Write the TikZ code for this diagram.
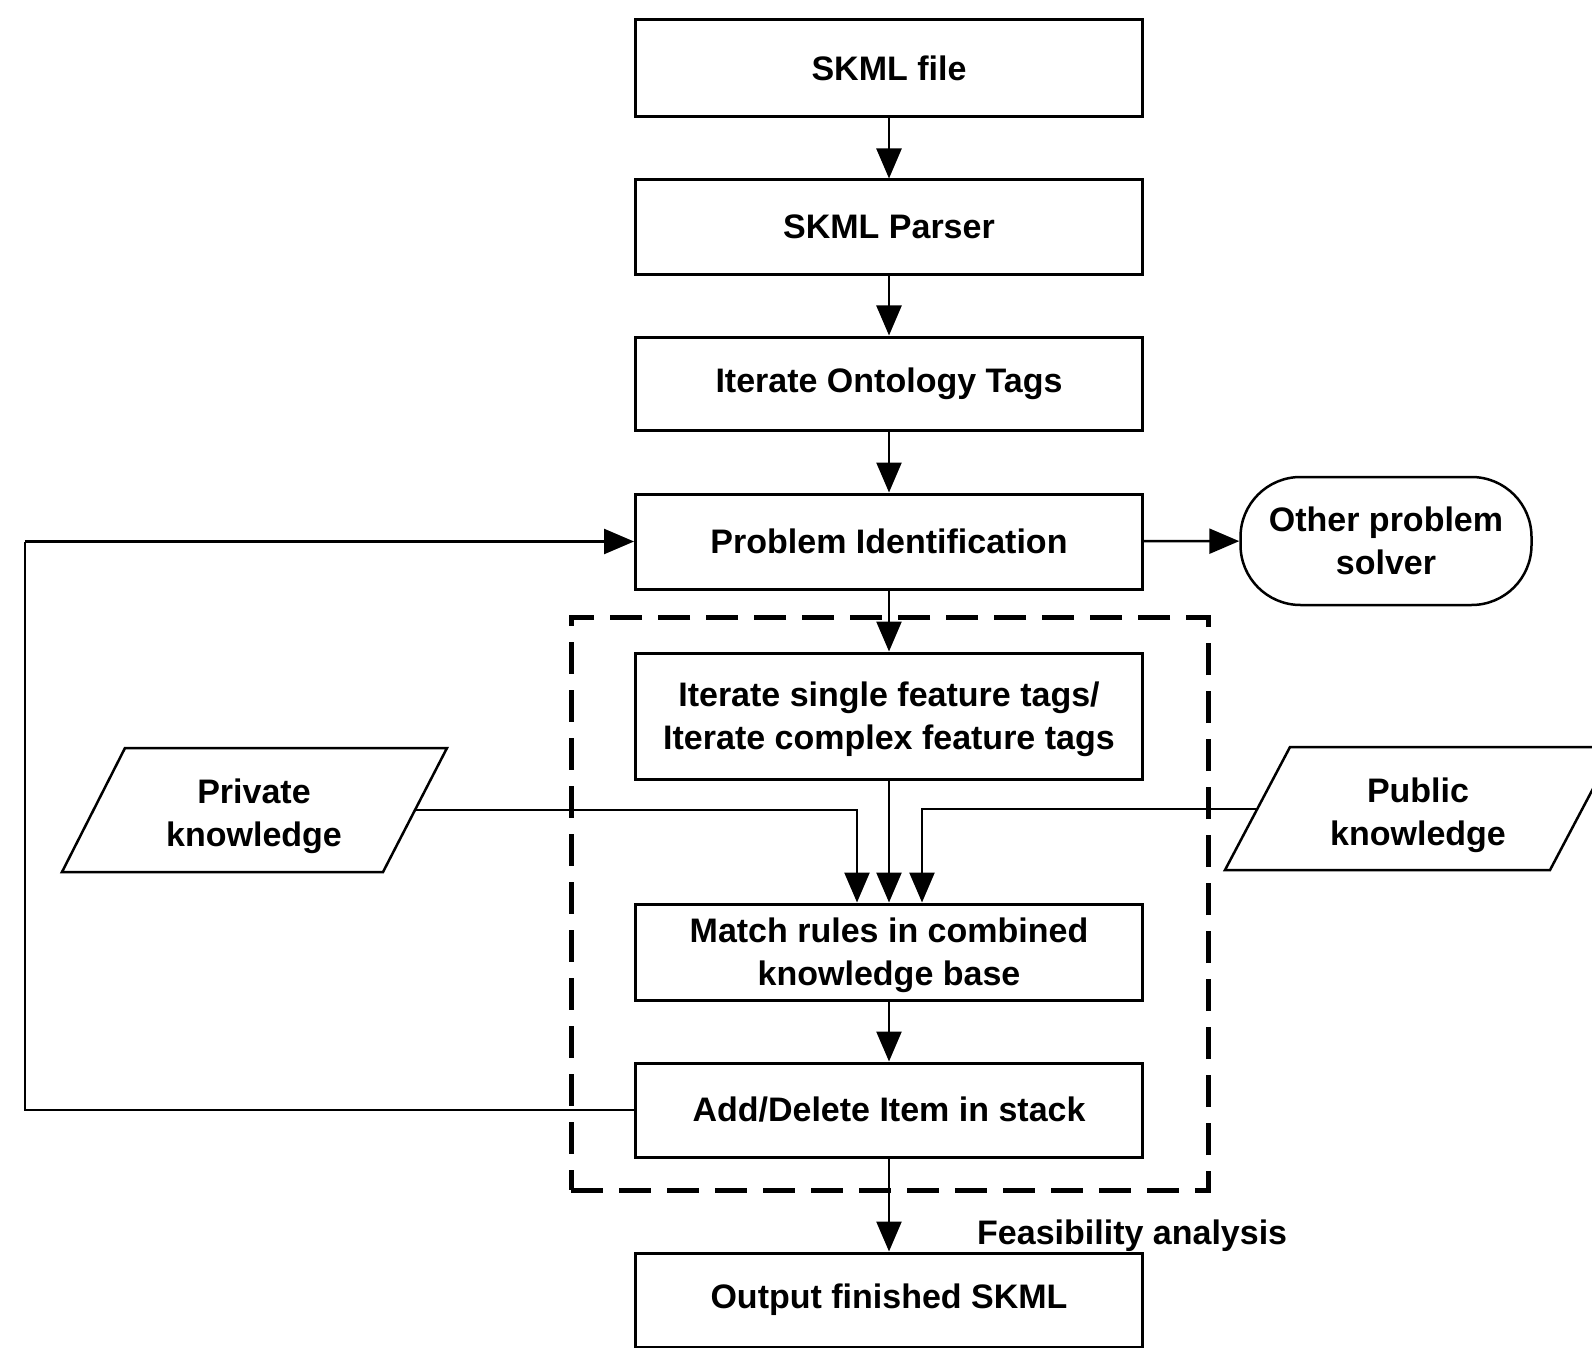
\documentclass[tikz,border=0pt]{standalone}
\usepackage{fontspec}
\setmainfont{Liberation Sans}
\usetikzlibrary{arrows.meta}

\begin{document}
\begin{tikzpicture}[x=1bp,y=-1bp,
  every node/.style={font=\fontsize{34bp}{43bp}\selectfont\bfseries},
  procbox/.style={draw, line width=3bp, minimum width=507bp, inner sep=0pt, align=center},
  solverbox/.style={draw, line width=2.5bp, rounded corners=60bp, minimum width=291bp,
                    minimum height=128bp, inner sep=0pt, align=center},
  groupbox/.style={draw, line width=5bp, dash pattern=on 32bp off 16bp,
                   minimum width=637bp, minimum height=573bp, inner sep=0pt},
  datashape/.style={line width=2.5bp, line join=miter},
  flow/.style={line width=2.5bp, -{Triangle[width=25bp,length=30bp]}},
  plain/.style={line width=2.5bp},
  txt/.style={inner sep=0pt, align=center}
]
\useasboundingbox (0,0) rectangle (1592,1348);
\clip (0,0) rectangle (1592,1348);

% main processing chain
\node[procbox, minimum height=97bp] (file)   at (889,68.5)  {SKML file};
\node[procbox, minimum height=94bp] (parser) at (889,227)   {SKML Parser};
\node[procbox, minimum height=93bp] (onto)   at (889,383.5) {Iterate Ontology Tags};
\node[procbox, minimum height=95bp] (probid) at (889,541.5) {Problem Identification};
\node[procbox, minimum height=126bp, text depth=-8bp] (feat) at (889,716)
  {Iterate single feature tags/\\Iterate complex feature tags};
\node[procbox, minimum height=96bp, text depth=-8bp] (match) at (889,952)
  {Match rules in combined\\knowledge base};
\node[procbox, minimum height=94bp] (adddel) at (889,1110)  {Add/Delete Item in stack};
\node[procbox, minimum height=94bp] (output) at (889,1300)  {Output finished SKML};

% alternative solver
\node[solverbox] (solver) at (1386,541) {Other problem\\solver};

% dashed group around the rule-matching loop
\node[groupbox] (group) at (889.5,903.5) {};

% knowledge sources (parallelograms)
\coordinate (pvA) at (125,748);
\coordinate (pvB) at (447,748);
\coordinate (pvC) at (383,872);
\coordinate (pvD) at (62,872);
\draw[datashape] (pvA) -- (pvB) -- (pvC) -- (pvD) -- cycle;
\node[txt] (privtxt) at (254,816) {Private\\knowledge};
\coordinate (privout) at (415,810);

\coordinate (pbA) at (1290,747);
\coordinate (pbB) at (1615,747);
\coordinate (pbC) at (1550,870);
\coordinate (pbD) at (1225,870);
\draw[datashape] (pbA) -- (pbB) -- (pbC) -- (pbD) -- cycle;
\node[txt] (pubtxt) at (1418,815) {Public\\knowledge};
\coordinate (pubout) at (1257,809);

% label
\node[inner sep=0pt, anchor=base west] (feas) at (977,1244) {Feasibility analysis};

% connectors
\draw[flow] (file) -- (parser);
\draw[flow] (parser) -- (onto);
\draw[flow] (onto) -- (probid);
\draw[flow] (probid) -- (feat);
\draw[flow] (probid) -- (solver);
\draw[flow] (feat) -- (match);
\draw[flow] (privout) -| ([xshift=-32bp]match.north);
\draw[flow] (pubout) -| ([xshift=33bp]match.north);
\draw[flow] (match) -- (adddel);
\draw[flow] (adddel) -- (output);
\coordinate (loopB) at (25,1110);
\coordinate (loopT) at (25,541.5);
\draw[plain] (adddel.west) -- (loopB) -- (loopT);
\draw[flow] (loopT) -- (probid.west);
\end{tikzpicture}
\end{document}
